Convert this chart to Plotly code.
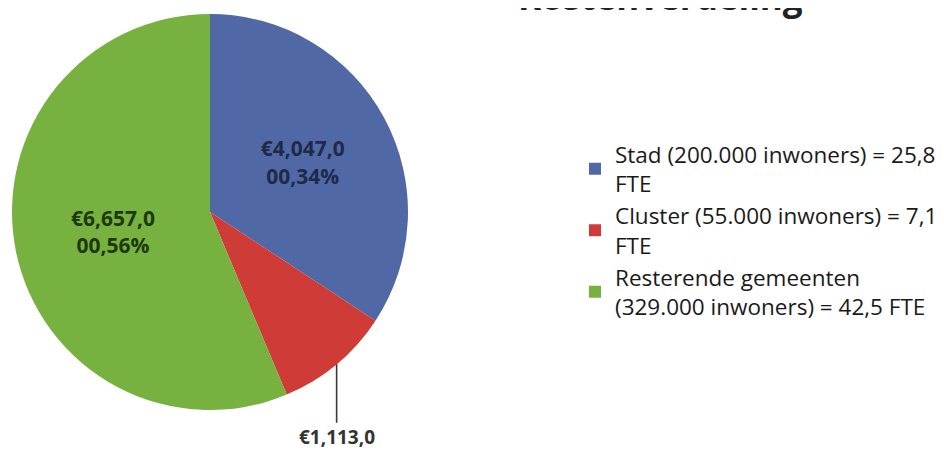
import math
import plotly.graph_objects as go

# ---- data ----
title_text = "Kostenverdeling"
categories = [
    "Stad (200.000 inwoners) = 25,8<br>FTE",
    "Cluster (55.000 inwoners) = 7,1<br>FTE",
    "Resterende gemeenten<br>(329.000 inwoners) = 42,5 FTE",
]
costs = [4047, 1113, 6657]
slice_colors = ["#5068a6", "#cf3b37", "#77b13f"]
label_colors = ["#1f2a48", "#3a0c0c", "#1c3a0e"]
show_inside = ["inside", "none", "inside"]

W, H = 944, 451
OFF = 8  # page body margin in the browser
total = sum(costs)

def fmt_eur(v):
    return "€" + f"{v:,}" + ",0"

def fmt_pct(v):
    return "00," + f"{round(100 * v / total):02d}" + "%"

labels_txt = ["<b>" + fmt_eur(v) + "<br>" + fmt_pct(v) + "</b>" for v in costs]

# pie geometry (figure pixels)
cx, cy, R = 210 - OFF, 212 - OFF, 198
dom_x = [(cx - R) / W, (cx + R) / W]
dom_y = [1 - (cy + R) / H, 1 - (cy - R) / H]

fig = go.Figure(
    go.Pie(
        labels=categories,
        values=costs,
        text=labels_txt,
        textinfo="text",
        textposition=show_inside,
        insidetextorientation="horizontal",
        insidetextfont=dict(family="Open Sans", size=21, color=label_colors),
        sort=False,
        direction="clockwise",
        rotation=0,
        marker=dict(colors=slice_colors, line=dict(width=0)),
        domain=dict(x=dom_x, y=dom_y),
        hoverinfo="label+value+percent",
    )
)

# leader label for the small slice (position computed from the data)
i = 1
mid = (sum(costs[:i]) + costs[i] / 2) / total
theta = 2 * math.pi * mid
px = cx + R * math.sin(theta)
py = cy - R * math.cos(theta)

fig.add_annotation(
    x=px / W, y=1 - py / H, xref="paper", yref="paper",
    text="<b>" + fmt_eur(costs[i]) + "</b>",
    showarrow=True, arrowhead=0, arrowwidth=1.6, arrowcolor="#3a3a3a",
    ax=0, ay=73, yanchor="middle",
    font=dict(family="Open Sans", size=19, color="#333333"),
)

fig.add_annotation(
    x=(660 - OFF) / W, y=0.968, xref="paper", yref="paper",
    xanchor="center", yanchor="bottom",
    text="<b>" + title_text + "</b>", showarrow=False,
    font=dict(family="Open Sans", size=35, color="#222222"),
)

fig.update_layout(
    width=W, height=H,
    margin=dict(l=0, r=0, t=0, b=0),
    paper_bgcolor="white",
    plot_bgcolor="white",
    showlegend=True,
    legend=dict(
        x=(575 - OFF) / W, y=1 - (133 - OFF) / H, xanchor="left", yanchor="top",
        font=dict(family="Open Sans", size=22.5, color="#1a1a1a"),
        valign="middle",
    ),
)

fig.write_html("out.html")
